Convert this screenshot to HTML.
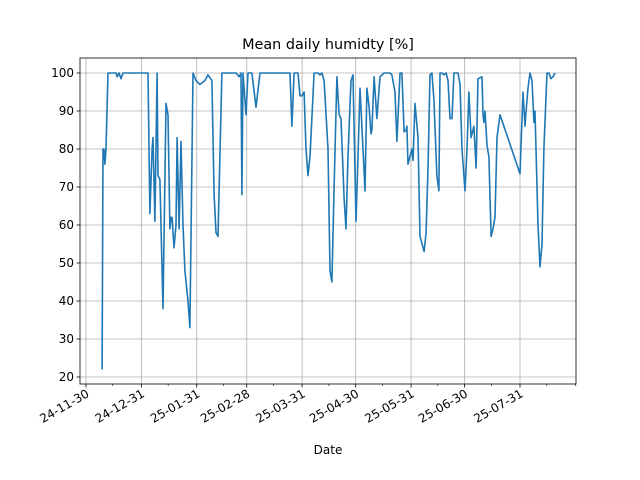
<!DOCTYPE html>
<html><head><meta charset="utf-8"><style>
html,body{margin:0;padding:0;background:#fff}
svg{display:block;font-family:"DejaVu Sans","Liberation Sans",sans-serif}
</style></head><body>
<svg id="chart" width="640" height="480" viewBox="0 0 640 480" xmlns="http://www.w3.org/2000/svg">
<rect width="640" height="480" fill="#fff"/>
<text x="328" y="49" text-anchor="middle" font-size="14.4">Mean daily humidty [%]</text>
<text x="328" y="454" text-anchor="middle" font-size="12">Date</text>
<g id="grid"></g><g id="series"></g><g id="axes"></g>
</svg>
<script>
const days=[9.0,9.5,10.1,10.6,11.2,12.3,16.8,17.4,18.5,19.6,20.7,22.4,34.7,35.8,37.0,37.5,38.6,39.8,40.3,41.4,43.1,44.8,45.9,47.0,47.6,48.2,49.3,50.4,51.0,52.1,53.2,54.3,55.4,57.1,58.2,59.9,61.6,63.8,66.6,68.3,70.5,71.7,72.8,73.9,76.1,84.0,85.7,86.8,87.3,87.9,89.6,90.7,92.9,95.2,97.4,106.9,114.2,115.3,116.5,118.7,119.8,120.9,122.1,123.2,124.3,125.4,127.7,129.9,131.0,132.1,133.3,135.5,136.6,137.7,138.9,140.5,141.7,142.8,144.5,145.6,146.7,148.4,149.5,151.2,152.3,153.4,155.1,156.2,157.3,158.5,159.6,160.1,161.3,162.9,164.6,166.9,170.2,171.3,173.0,174.1,175.8,176.9,178.1,179.2,179.7,180.3,181.4,182.5,183.1,184.2,185.9,187.0,189.3,190.4,191.5,192.6,193.7,194.8,196.5,197.6,198.2,199.3,200.4,201.6,202.7,203.8,204.9,206.0,208.3,209.4,210.5,212.2,213.3,214.4,215.6,217.2,218.4,219.5,221.7,222.3,222.8,223.4,224.5,225.6,226.8,227.9,229.0,230.1,231.8,243.0,244.7,245.8,246.4,247.5,248.6,249.7,250.8,251.4,253.1,254.2,255.3,256.4,258.1,259.2,260.3,261.5,262.6];
const humidity=[22,80,80,76,80,100,100,99,100,98.5,100,100,100,63,80,83,61,100,73,72,38,92,89,59,62,62,54,60,83,59,82,60,48,40,33,100,98,97,98,99.5,98,68,58,57,100,100,99,100,68,100,89,100,100,91,100,100,100,86,100,100,94,94,95,80,73,78,100,100,99.5,100,98,80,48,45,70,99,89,88,67,59,78,98,99.5,61,78,96,80,69,96,91,84,85,99,88,99,100,100,99.5,95,82,100,100,84.5,85,86,76,78,80,77,92,83,57,53,58,75,99.5,100,93,73,69,100,100,99.5,100,98,88,88,100,100,97,80,69,80,95,83,86,75,98.5,99,89,87,90,81,78,57,59,62,83,89,73.5,95,86,90,96,100,98,87,90,60,49,55,80,100,100,98.5,99,100];
const majorTickDays=[0,31,62,90,121,151,182,212,243];
const majorTickLabels=["24-11-30","24-12-31","25-01-31","25-02-28","25-03-31","25-04-30","25-05-31","25-06-30","25-07-31"];
const minorTickDays=[15,46,77,105,136,166,197,227,258,274];
const yTicks=[20,30,40,50,60,70,80,90,100];

const L=80,R=576,T=58,B=384;
const xs=d=>86+d*1.786;
const ys=v=>73+(100-v)*3.8;
const NS="http://www.w3.org/2000/svg";
function mk(tag,attrs,parent){const e=document.createElementNS(NS,tag);for(const k in attrs)e.setAttribute(k,attrs[k]);parent.appendChild(e);return e;}
const grid=document.getElementById('grid'),axes=document.getElementById('axes'),series=document.getElementById('series');

yTicks.forEach(v=>{
  const y=ys(v);
  const g=mk('line',{x1:L,x2:R,y1:y,y2:y,stroke:'#b0b0b0','stroke-width':0.8},grid);
  
  
  const t=mk('line',{x1:L-3.5,x2:L,y1:y,y2:y,stroke:'#000','stroke-width':0.8},axes);
  
  
  const lb=mk('text',{x:L-6,y:y+4,'text-anchor':'end','font-size':12},axes);
  lb.textContent=v;
  
  
});
majorTickDays.forEach((d,i)=>{
  const x=xs(d);
  const g=mk('line',{x1:x,x2:x,y1:T,y2:B,stroke:'#b0b0b0','stroke-width':0.8},grid);
  
  
  const t=mk('line',{x1:x,x2:x,y1:B,y2:B+3.5,stroke:'#000','stroke-width':0.8},axes);
  
  
  const lb=mk('text',{x:0,y:0,'text-anchor':'end','font-size':12,transform:`translate(${x+4},${B+12}) rotate(-30)`},axes);
  lb.textContent=majorTickLabels[i];
  
  
});
minorTickDays.forEach(d=>{
  const x=xs(d);
  const t=mk('line',{x1:x,x2:x,y1:B,y2:B+2,stroke:'#000','stroke-width':0.6},axes);
  
  
});
const fr=mk('rect',{x:L,y:T,width:R-L,height:B-T,fill:'none',stroke:'#000','stroke-width':0.8},axes);



const pts=days.map((d,i)=>xs(d).toFixed(1)+','+ys(humidity[i]).toFixed(1)).join(' ');
const pl=mk('polyline',{points:pts,fill:'none',stroke:'#1f77b4','stroke-width':1.6,'stroke-linejoin':'round'},series);


</script>
</body></html>
